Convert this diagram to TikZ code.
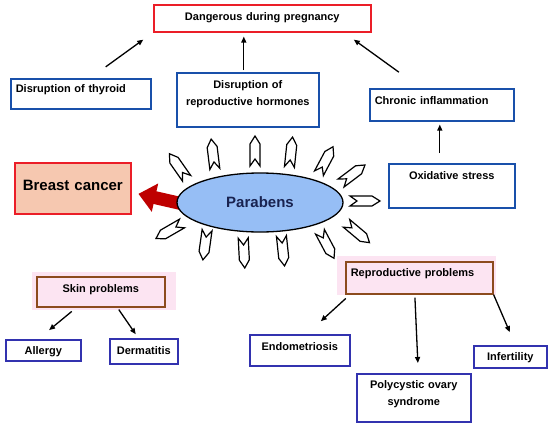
\documentclass[tikz,border=0pt]{standalone}
\usepackage{fontspec}
\setmainfont{Liberation Sans}
\usetikzlibrary{arrows.meta,shapes.geometric,backgrounds}
\definecolor{boxblue}{RGB}{25,80,170}
\definecolor{boxindigo}{RGB}{50,50,175}
\definecolor{alertred}{RGB}{235,30,40}
\definecolor{peach}{RGB}{246,200,176}
\definecolor{parablue}{RGB}{150,190,245}
\definecolor{paranavy}{RGB}{25,35,80}
\definecolor{rootbrown}{RGB}{140,75,30}
\definecolor{padpink}{RGB}{252,228,242}
\definecolor{darkred}{RGB}{190,0,0}
\tikzset{
  box/.style={draw,line width=1.6pt,inner sep=0pt,anchor=north west,
    font=\bfseries\fontsize{11}{17}\selectfont,text height=8pt},
  boxdim/.style 2 args={minimum width=#1pt,minimum height=#2pt,text width=#1pt-10pt},
  bluebox/.style={box,draw=boxblue},
  indigobox/.style={box,draw=boxindigo,align=center},
  rootbox/.style={box,draw=rootbrown},
  arr/.style={-{Triangle[length=6pt,width=5pt]},line width=1.3pt},
  spikeline/.style={draw=black,fill=white,line width=1.2pt,line join=miter}
}
\newcommand{\spike}[2]{\draw[spikeline,shift={#1},rotate=#2] (15,0) -- (7,5) -- (-15,5) -- (-8,0) -- (-15,-5) -- (7,-5) -- cycle;}

\begin{document}
\begin{tikzpicture}[x=1pt,y=-1pt]
\useasboundingbox (0,0) rectangle (550,426);
% top row
\node[box,draw=alertred,boxdim={217}{27},align=center,text depth=4pt] (preg) at (153,4) {Dangerous during pregnancy};
\node[bluebox,boxdim={140}{30},align=left,text depth=10pt] (thyroid) at (10,78) {Disruption of thyroid};
\node[bluebox,boxdim={142}{54},align=center,text depth=30pt] (hormones) at (176,72) {Disruption of\\reproductive hormones};
\node[bluebox,boxdim={144}{32},align=left,text depth=8pt] (chronic) at (369,88) {Chronic inflammation};
\node[bluebox,boxdim={126}{44},align=center,text depth=20pt] (oxidative) at (388,163) {Oxidative stress};
\draw[arr,shorten <=19pt,shorten >=12pt] ([xshift=9.5pt]thyroid.north) -- (preg.south west);
\draw[arr,shorten <=2pt,shorten >=4pt] ([xshift=-4pt]hormones.north) -- ([xshift=-4pt]hormones.north |- preg.south);
\draw[arr,shorten <=27pt,shorten >=12pt] ([xshift=-21pt]chronic.north) -- ([xshift=-27.5pt]preg.south east);
\draw[arr,shorten <=10pt,shorten >=3pt] ([xshift=-12pt]oxidative.north) -- ([xshift=-12pt]oxidative.north |- chronic.south);
% centre
\node[ellipse,draw,fill=parablue,line width=1.3pt,minimum width=166pt,minimum height=59pt,inner sep=0pt,
  font=\bfseries\fontsize{15}{18}\selectfont,text=paranavy] (parabens) at (260,202.5) {Parabens};
\node[box,draw=alertred,fill=peach,boxdim={116}{51},align=center,
  font=\bfseries\fontsize{15}{18}\selectfont,text height=11pt,text depth=6pt] (breast) at (14,162) {Breast cancer};
\begin{scope}[on background layer]
\draw[line width=13pt,darkred,-{Triangle[length=17pt,width=28pt]},shorten <=-8pt,shorten >=7pt] (parabens.west) -- ([yshift=-4pt]breast.east);
\end{scope}
\spike{(178,166)}{125} \spike{(213,154)}{97} \spike{(255,151)}{90} \spike{(291,152)}{84} \spike{(326,160)}{62}
\spike{(353,174)}{37} \spike{(365,201)}{0} \spike{(358,233)}{-40} \spike{(327,245)}{-62}
\spike{(283,251)}{-84} \spike{(244,253)}{-87} \spike{(205,245)}{-98} \spike{(169,231)}{-150}
% skin branch
\fill[padpink] (32,272) rectangle (176,310);
\node[rootbox,boxdim={128}{30},align=center,text depth=6pt] (skin) at (36,276) {Skin problems};
\node[indigobox,boxdim={75}{21},text depth=0pt] (allergy) at (5,339) {Allergy};
\node[indigobox,boxdim={68}{25},text depth=1pt] (dermatitis) at (109,338) {Dermatitis};
\draw[arr,shorten <=6pt,shorten >=14pt] ([xshift=-24.4pt]skin.south) -- ([xshift=-5pt]allergy.north);
\draw[arr,shorten <=2.4pt,shorten >=4.6pt] ([xshift=16.6pt]skin.south) -- ([xshift=-5.5pt]dermatitis.north);
% reproductive branch
\fill[padpink] (337,256) rectangle (496,295);
\node[rootbox,boxdim={147}{32},align=left,text depth=10pt] (repro) at (345,261) {Reproductive problems};
\node[indigobox,boxdim={100}{31},text depth=8.4pt] (endo) at (249,334) {Endometriosis};
\node[indigobox,boxdim={114}{48},text depth=26pt] (pcos) at (356,373) {Polycystic ovary\\syndrome};
\node[indigobox,boxdim={73}{22},text depth=0pt] (infert) at (473,345) {Infertility};
\draw[arr,shorten <=5.7pt,shorten >=19pt] ([xshift=5pt]repro.south west) -- ([xshift=7pt]endo.north);
\draw[arr,shorten <=3pt,shorten >=10pt] ([xshift=-4.5pt]repro.south) -- ([xshift=4.5pt]pcos.north);
\draw[arr,shorten >=14pt] (repro.south east) -- ([xshift=5pt]infert.north);
\end{tikzpicture}
\end{document}
